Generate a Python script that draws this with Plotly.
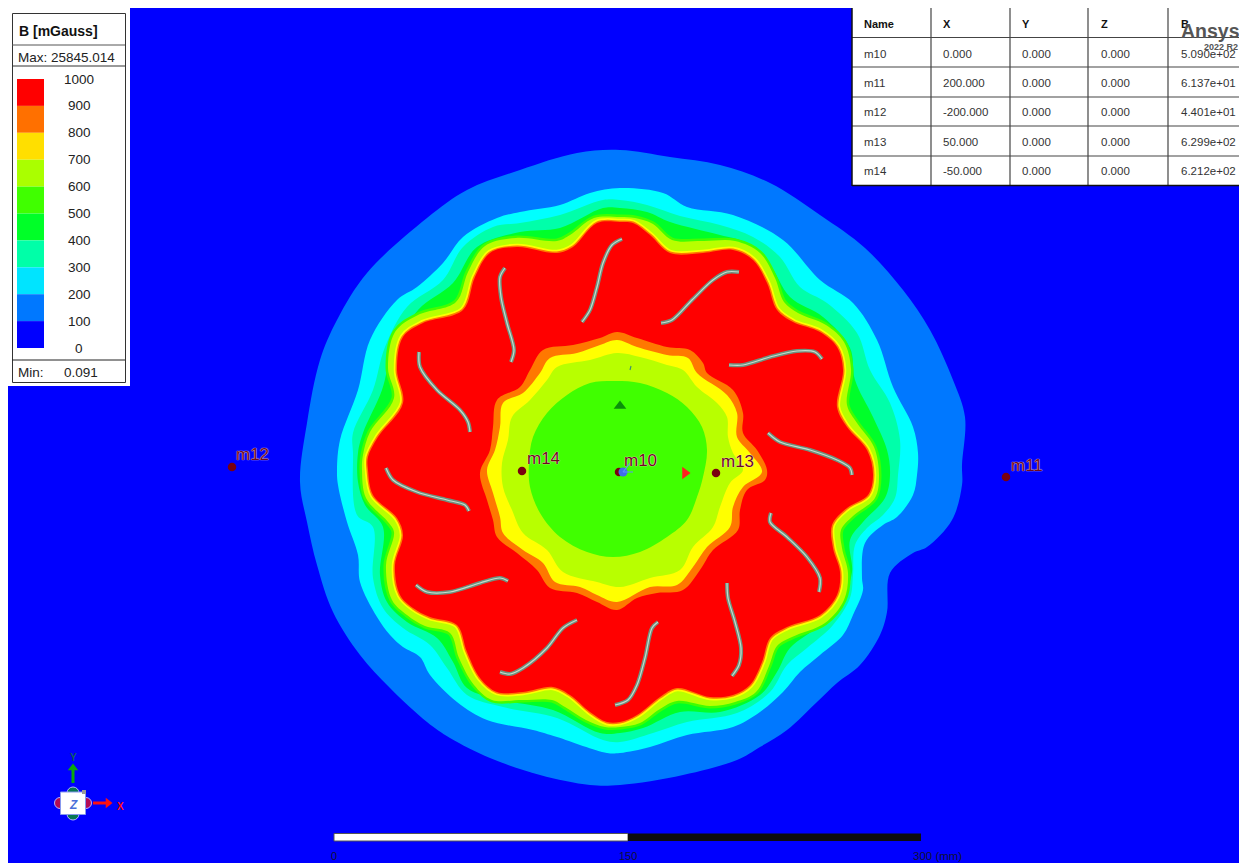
import plotly.graph_objects as go

# Contour outlines of B, in image pixels of the field view
LEVEL_100 = [(620,150),(670,157),(720,165),(770,183),(820,215),(865,248),(903,290),(930,330),(953,380),(965,417),(962,465),(962,485),(952,520),(927,547),(913,553),(890,573),(887,612),(880,635),(860,665),(837,683),(817,702),(787,730),(760,747),(737,760),(683,775),(620,785),(590,785),(540,775),(490,758),(450,738),(427,722),(390,688),(360,655),(333,612),(317,565),(307,522),(300,482),(307,423),(320,360),(337,320),(367,273),(427,218),(467,190),(520,170),(577,153)]
LEVEL_200 = [(620,188),(663,193),(687,207),(733,215),(783,240),(820,280),(853,303),(877,340),(893,387),(913,427),(918,453),(917,475),(913,495),(897,517),(883,525),(865,543),(862,578),(863,590),(853,615),(843,635),(820,655),(800,672),(783,692),(760,712),(733,727),(687,735),(650,747),(620,753),(607,753),(557,737),(533,730),(487,720),(457,702),(430,675),(420,657),(403,647),(390,635),(377,617),(360,582),(358,555),(347,522),(338,485),(337,470),(340,440),(358,390),(370,340),(397,300),(417,287),(443,263),(463,237),(497,218),(520,212),(560,205),(590,193)]
LEVEL_300 = [(620,200),(647,205),(680,216),(720,225),(753,237),(780,257),(800,287),(827,303),(857,333),(870,370),(890,403),(900,440),(898,475),(895,498),(883,515),(867,528),(855,545),(853,575),(850,598),(833,625),(807,648),(787,665),(770,692),(737,713),(687,722),(653,733),(620,742),(603,740),(557,718),(503,707),(467,695),(447,668),(430,645),(403,628),(383,608),(373,578),(373,527),(357,515),(353,453),(353,433),(373,390),(385,347),(407,307),(443,280),(463,247),(493,227),(520,223),(560,215),(603,200)]
LEVEL_400 = [(620,208),(647,212),(670,222),(720,235),(747,243),(770,265),(790,297),(823,317),(850,348),(855,380),(873,417),(887,450),(890,475),(885,498),(863,522),(850,540),(852,572),(843,598),(820,625),(790,648),(777,672),(760,695),(720,712),(680,712),(643,728),(620,733),(600,733),(553,710),(503,700),(467,688),(453,662),(437,638),(407,622),(387,602),(380,575),(383,527),(365,505),(358,482),(358,453),(363,433),(382,390),(392,353),(418,310),(453,283),(477,247),(520,232),(560,228),(603,208)]
LEVEL_600_OUTER = [(620,217),(635,218),(653,224),(672,240),(703,241),(735,241),(760,253),(775,278),(784,302),(798,313),(826,325),(844,342),(851,369),(847,405),(857,423),(874,447),(879,476),(875,498),(853,516),(841,530),(842,548),(848,573),(844,600),(825,623),(792,637),(777,646),(769,666),(756,692),(735,702),(710,706),(677,701),(660,709),(640,723),(620,727),(605,727),(586,720),(565,707),(552,700),(522,700),(492,700),(474,685),(459,658),(450,633),(425,626),(407,615),(392,600),(386,565),(394,532),(388,522),(366,498),(362,470),(363,455),(370,432),(394,398),(388,368),(395,332),(418,315),(456,302),(468,272),(485,246),(516,238),(557,241),(570,235),(594,218)]
LEVEL_900_OUTER = [(620,222),(633,223),(650,235),(670,253),(703,253),(733,250),(753,260),(767,283),(777,310),(793,322),(820,332),(837,347),(843,370),(837,407),(847,427),(867,450),(873,475),(868,495),(847,508),(832,525),(833,548),(840,572),(837,595),(820,615),(787,627),(770,638),(762,662),(750,685),(733,695),(710,697),(677,688),(660,697),(637,715),(620,722),(607,722),(590,712),(570,695),(553,687),(523,692),(497,692),(480,678),(467,652),(457,625),(430,617),(413,608),(400,595),(395,565),(403,535),(397,518),(373,495),(368,470),(368,457),(378,437),(403,403),(397,370),(403,337),(423,323),(463,310),(475,277),(490,253),(517,247),(557,253),(573,247),(597,223)]
LEVEL_900_INNER = [(617,332),(637,338),(667,347),(690,350),(703,363),(707,373),(733,390),(743,413),(743,433),(757,450),(767,470),(765,480),(747,490),(740,510),(738,530),(713,550),(700,570),(683,590),(657,593),(637,598),(617,610),(597,602),(577,593),(550,588),(537,570),(517,553),(497,537),(493,520),(487,500),(480,473),(490,450),(493,427),(497,400),(520,387),(530,370),(543,350),(573,345),(600,338)]
LEVEL_800_INNER = [(617,340),(637,347),(667,355),(688,358),(697,373),(727,395),(737,413),(737,437),(750,453),(762,472),(743,487),(733,507),(730,527),(707,547),(693,567),(677,585),(650,587),(617,602),(597,595),(580,587),(555,582),(543,563),(523,550),(503,533),(500,517),(493,493),(487,470),(495,450),(500,427),(503,403),(523,393),(540,373),(550,358),(577,353),(600,345)]
LEVEL_700_INNER = [(617,353),(640,357),(667,365),(683,370),(697,387),(717,403),(727,417),(728,437),(733,453),(743,470),(730,483),(720,507),(713,527),(693,547),(680,570),(650,578),(620,587),(597,582),(563,572),(547,550),(523,533),(512,510),(503,487),(502,463),(508,440),(512,417),(530,400),(547,380),(557,367),(590,360)]
LEVEL_600_INNER = [(613,381),(640,383),(667,393),(687,407),(702,427),(707,450),(703,477),(697,497),(687,520),(667,537),(640,552),(613,557),(587,552),(560,537),(540,513),(530,487),(529,463),(533,437),(547,413),(567,395),(590,383)]

BLADES = [
    [(622,239),(612,245),(603,263),(597,287),(590,310),(582,322)],
    [(505,268),(500,277),(501,297),(507,323),(514,350),(511,362)],
    [(419,352),(420,367),(437,390),(460,410),(468,422),(470,432)],
    [(386,468),(393,480),(417,492),(447,500),(465,505),(469,511)],
    [(416,585),(427,592),(450,592),(480,583),(500,578),(508,581)],
    [(577,620),(563,628),(547,648),(523,668),(510,674),(500,672)],
    [(658,622),(652,628),(645,658),(637,685),(628,700),(615,705)],
    [(727,583),(728,598),(735,622),(741,648),(739,665),(732,676)],
    [(771,513),(770,522),(787,537),(807,557),(820,578),(819,592)],
    [(768,433),(780,442),(810,450),(837,460),(850,468),(852,475)],
    [(729,365),(743,365),(770,357),(797,351),(815,352),(822,359)],
    [(661,323),(672,320),(692,300),(713,280),(727,272),(739,272)],
]

MARKER_NAMES = ["m10", "m11", "m12", "m13", "m14"]
MARKER_PIX_X = [619, 1006, 232, 716, 522]
MARKER_PIX_Y = [472, 477, 467, 473, 471]
LABEL_PIX_X = [624, 1011, 236, 721, 527]
LABEL_PIX_Y = [462, 467, 456, 463, 460]

TABLE_HEAD = ["Name", "X", "Y", "Z", "B"]
TABLE_ROWS = [
    ["m10", "0.000", "0.000", "0.000", "5.090e+02"],
    ["m11", "200.000", "0.000", "0.000", "6.137e+01"],
    ["m12", "-200.000", "0.000", "0.000", "4.401e+01"],
    ["m13", "50.000", "0.000", "0.000", "6.299e+02"],
    ["m14", "-50.000", "0.000", "0.000", "6.212e+02"],
]
LEGEND_LABELS = ["1000", "900", "800", "700", "600", "500", "400", "300", "200", "100", "0"]
LEGEND_COLORS = ["#ff0000", "#ff7000", "#ffdf00", "#aaff00", "#40ff00", "#00ff28", "#00ffa8", "#00e4ff", "#0078ff", "#0000ff"]

BLUE, BLUE2, CYAN, TEAL, GREEN, GREEN2, LIME, YELLOW, ORANGE, RED = (
    "#0000ff", "#0078ff", "#00ffff", "#00ffaa", "#00ff2a", "#40ff00", "#b8ff00", "#ffff00", "#ff7800", "#ff0000")
FONT = "Liberation Sans"

fig = go.Figure()

def poly(points, fill, stroke=None, w=0):
    xs = [p[0] for p in points] + [points[0][0]]
    ys = [p[1] for p in points] + [points[0][1]]
    fig.add_trace(go.Scatter(
        x=xs, y=ys, mode="lines", fill="toself", fillcolor=fill,
        line=dict(color=stroke or fill, width=w, shape="spline", smoothing=1.0),
        hoverinfo="skip", showlegend=False))

poly(LEVEL_100, BLUE2)
poly(LEVEL_200, CYAN)
poly(LEVEL_300, TEAL)
poly(LEVEL_400, GREEN)
poly(LEVEL_600_OUTER, LIME, GREEN2, 5)
poly(LEVEL_600_OUTER, LIME)
poly(LEVEL_900_OUTER, YELLOW, YELLOW, 6.5)
poly(LEVEL_900_OUTER, ORANGE, ORANGE, 3)
poly(LEVEL_900_OUTER, RED)
poly(LEVEL_900_INNER, ORANGE)
poly(LEVEL_800_INNER, YELLOW)
poly(LEVEL_700_INNER, LIME)
poly(LEVEL_600_INNER, GREEN2)

for blade in BLADES:
    bx = [p[0] for p in blade]
    by = [p[1] for p in blade]
    for col, w in (("#71907e", 4.0), ("#c4dccd", 1.2)):
        fig.add_trace(go.Scatter(x=bx, y=by, mode="lines",
                                 line=dict(color=col, width=w, shape="spline", smoothing=0.9),
                                 hoverinfo="skip", showlegend=False))

# small glyphs near the centre
fig.add_trace(go.Scatter(x=[620], y=[406], mode="markers", hoverinfo="skip", showlegend=False,
                         marker=dict(symbol="triangle-up", size=11, color="#0a8f0a")))
fig.add_trace(go.Scatter(x=[685], y=[473], mode="markers", hoverinfo="skip", showlegend=False,
                         marker=dict(symbol="triangle-right", size=11, color="#ff2020")))
fig.add_trace(go.Scatter(x=[630, 631], y=[370, 366], mode="lines", hoverinfo="skip", showlegend=False,
                         line=dict(color="#3f8f6f", width=1.2)))

fig.add_trace(go.Scatter(x=MARKER_PIX_X, y=MARKER_PIX_Y, mode="markers", hoverinfo="skip", showlegend=False,
                         marker=dict(size=8.5, color="#7a0010")))
fig.add_trace(go.Scatter(x=[623], y=[472], mode="markers", hoverinfo="skip", showlegend=False,
                         marker=dict(size=9, color="#3f6fe8")))
fig.add_trace(go.Scatter(x=[623, 631, 623, 633], y=[472, 462, 472, 472], mode="lines", hoverinfo="skip", showlegend=False,
                         line=dict(color="#5f8fff", width=1.2)))
fig.add_trace(go.Scatter(x=LABEL_PIX_X, y=LABEL_PIX_Y, mode="text", text=MARKER_NAMES, textposition="middle right",
                         hoverinfo="skip", showlegend=False,
                         textfont=dict(family=FONT, size=17, color="#6e0a1e",
                                       shadow="0px 0px 1px #ffe0d8, 0px 0px 1px #ffe0d8")))

shapes = []
ann = []

def rect(x0, y0, x1, y1, fill=None, line=None, w=1):
    shapes.append(dict(type="rect", x0=x0, y0=y0, x1=x1, y1=y1, layer="above",
                       fillcolor=fill or "rgba(0,0,0,0)",
                       line=dict(color=line or "rgba(0,0,0,0)", width=w if line else 0)))

def hline(x0, x1, y, col="#222222", w=1):
    shapes.append(dict(type="line", x0=x0, x1=x1, y0=y, y1=y, layer="above", line=dict(color=col, width=w)))

def vline(x, y0, y1, col="#222222", w=1):
    shapes.append(dict(type="line", x0=x, x1=x, y0=y0, y1=y1, layer="above", line=dict(color=col, width=w)))

def text(x, y, s, size=12, col="#111111", anchor="left", bold=False, fam=FONT):
    ann.append(dict(x=x, y=y, text=f"<b>{s}</b>" if bold else s, showarrow=False, xanchor=anchor, yanchor="middle",
                    font=dict(family=fam, size=size, color=col)))

# white page margin on the left and top
rect(0, 0, 8, 863, fill="#ffffff")
rect(0, 0, 1239, 8, fill="#ffffff")

# legend panel
rect(8, 8, 130, 386, fill="#ffffff")
rect(12.5, 13.5, 125.5, 382.5, line="#333333", w=1)
hline(12, 125, 45, "#555555")
hline(12, 125, 66, "#333333")
hline(12, 125, 360, "#222222")
text(17, 31, "B [mGauss]", 14, bold=True)
text(16, 57.5, "Max: 25845.014", 13.5, "#222222")
text(16, 372.5, "Min:", 13.5, "#222222")
text(62, 372.5, "0.091", 13.5, "#222222")
for i, c in enumerate(LEGEND_COLORS):
    rect(17, 79 + 26.9 * i, 44, 79 + 26.9 * (i + 1), fill=c)
for i, lab in enumerate(LEGEND_LABELS):
    text(79, 79 + 26.9 * i, lab, 13.5, "#222222", "center")

# table
rect(852, 8, 1239, 186, fill="#ffffff")
for x in (931, 1010, 1088, 1168):
    vline(x, 8, 186, "#444444", 1.2)
for y in (37.5, 67, 97, 126, 156):
    hline(852, 1239, y, "#444444", 1.2)
hline(852, 1239, 185.5, "#111111", 1.5)
vline(852, 8, 186, "#111111", 1.5)
col_x = [862, 941, 1020, 1099, 1179]
for x, h in zip(col_x, TABLE_HEAD):
    text(x, 23.5, h, 11, "#111111", bold=True)
for r, row in enumerate(TABLE_ROWS):
    for x, v in zip(col_x, row):
        text(x, 53.5 + 29.4 * r, v, 11.5, "#333333")
text(1179, 31, "Ansys", 19.5, "#555555", bold=True)
text(1202, 47, "2022 R2", 9, "#555555", bold=True)

# triad
rect(60.5, 792, 85.5, 814.5, fill="#ffffff", line="#8899ee", w=1)
rect(82, 790, 86, 794, fill="#999999")
text(73, 805, "<i><b>Z</b></i>", 12, "#4a6fd8", "center")
text(120, 806, "X", 10, "#ff1010", "center", bold=True)
text(73, 757, "Y", 10, "#0f5f5f", "center", bold=True)

# scale bar
rect(334, 833.5, 628, 841, fill="#ffffff", line="#555555", w=1)
rect(628, 833.5, 921, 841, fill="#0d0d0d")
text(334, 856, "0", 11, "#111133", "center")
text(628, 856, "150", 11, "#111133", "center")
text(911, 856, "300 (mm)", 11.5, "#111133", "left")

# triad glyphs (behind the white cube)
fig.add_trace(go.Scatter(x=[73, 73], y=[793, 814], mode="markers", hoverinfo="skip", showlegend=False,
                         marker=dict(size=[12, 12], color="#0aa80a")))
fig.add_trace(go.Scatter(x=[60, 86], y=[803, 803], mode="markers", hoverinfo="skip", showlegend=False,
                         marker=dict(size=[11, 11], color="#ff1010")))
fig.add_trace(go.Scatter(x=[73, 73], y=[783, 768], mode="lines", hoverinfo="skip", showlegend=False,
                         line=dict(color="#0aa80a", width=3)))
fig.add_trace(go.Scatter(x=[73], y=[768], mode="markers", hoverinfo="skip", showlegend=False,
                         marker=dict(symbol="triangle-up", size=9, color="#0aa80a")))
fig.add_trace(go.Scatter(x=[93, 107], y=[803, 803], mode="lines", hoverinfo="skip", showlegend=False,
                         line=dict(color="#ff1010", width=3)))
fig.add_trace(go.Scatter(x=[108], y=[803], mode="markers", hoverinfo="skip", showlegend=False,
                         marker=dict(symbol="triangle-right", size=9, color="#ff1010")))

fig.update_layout(
    width=1239, height=863, margin=dict(l=0, r=0, t=0, b=0),
    plot_bgcolor=BLUE, paper_bgcolor=BLUE,
    xaxis=dict(range=[0, 1239], visible=False, fixedrange=True),
    yaxis=dict(range=[863, 0], visible=False, fixedrange=True),
    shapes=shapes, annotations=ann, showlegend=False, hovermode=False,
)
fig.write_html("out.html", config={"displayModeBar": False},
               post_script="document.body.style.margin='0';document.body.style.overflow='hidden';")
